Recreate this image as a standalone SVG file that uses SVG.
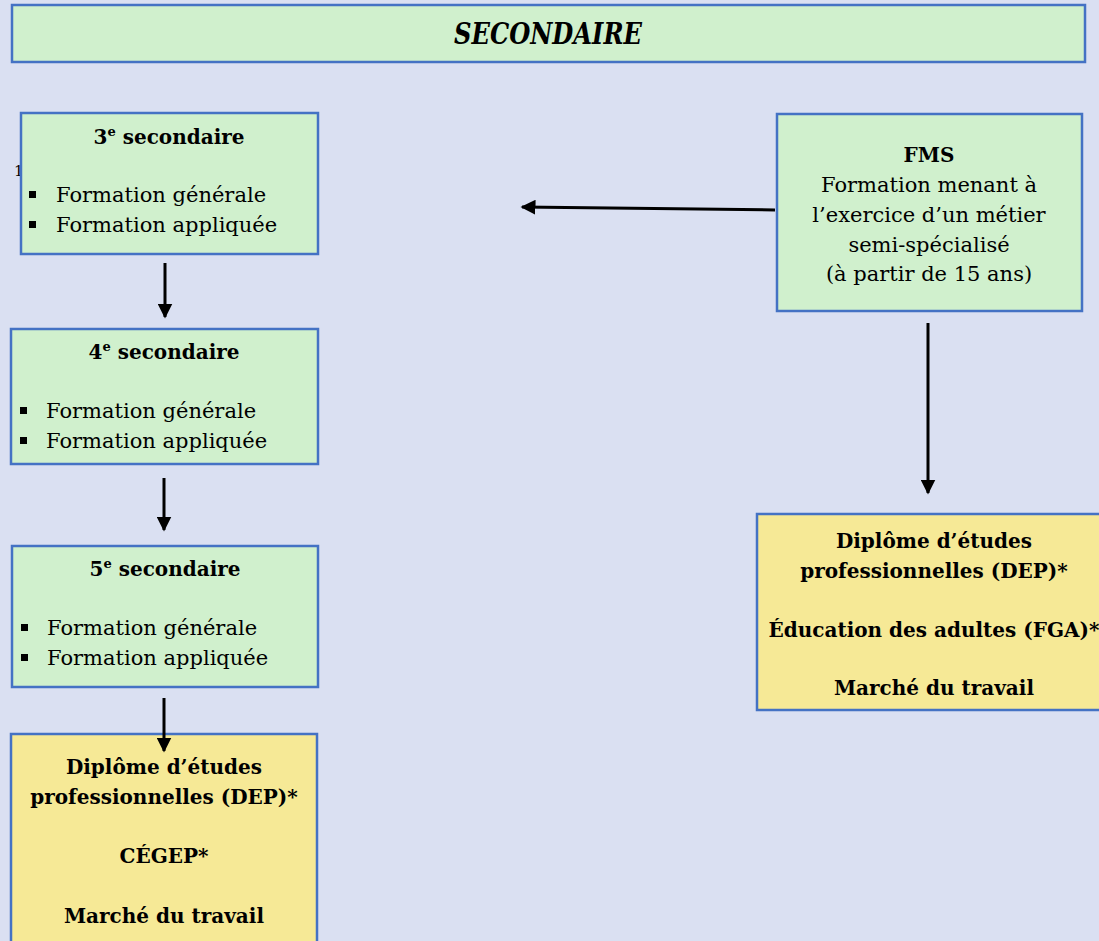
<svg xmlns="http://www.w3.org/2000/svg" width="1099" height="941" viewBox="0 0 1099 941">
<defs>
<marker id="ah" viewBox="0 0 10 10" refX="9" refY="5" markerWidth="5" markerHeight="5" markerUnits="strokeWidth" orient="auto">
<path d="M0,0 L10,5 L0,10 z" fill="#000"/>
</marker>
<style>
.g{fill:#D0F0CD;stroke:#4472C4;stroke-width:2.5}
.y{fill:#F6E996;stroke:#4472C4;stroke-width:2.5}
.t{font-family:"DejaVu Serif","Liberation Serif",serif;fill:#000}
.b{font-weight:bold;font-size:20px}
.r{font-size:21px}
.c{text-anchor:middle}
.sq{fill:#000}
.ln{stroke:#000;stroke-width:3;fill:none;marker-end:url(#ah)}
</style>
</defs>
<rect width="1099" height="941" fill="#DAE0F2"/>
<text class="t" x="14" y="176" font-size="15">1</text>
<g id="banner">
<rect class="g" x="12" y="5" width="1073" height="57"/>
<text class="t c" x="548" y="44" font-size="30" font-weight="bold" font-style="italic" textLength="188" lengthAdjust="spacingAndGlyphs">SECONDAIRE</text>
</g>
<g id="n3">
<rect class="g" x="21" y="113" width="297" height="141"/>
<text class="t b c" x="169" y="144">3<tspan font-size="13" dy="-8">e</tspan><tspan dy="8"> secondaire</tspan></text>
<rect class="sq" x="29" y="191" width="7" height="7"/>
<rect class="sq" x="29" y="221" width="7" height="7"/>
<text class="t r" x="56" y="202">Formation générale</text>
<text class="t r" x="56" y="232">Formation appliquée</text>
</g>
<g id="n4">
<rect class="g" x="11" y="329" width="307" height="135"/>
<text class="t b c" x="164" y="359">4<tspan font-size="13" dy="-8">e</tspan><tspan dy="8"> secondaire</tspan></text>
<rect class="sq" x="20" y="407" width="7" height="7"/>
<rect class="sq" x="20" y="437" width="7" height="7"/>
<text class="t r" x="46" y="418">Formation générale</text>
<text class="t r" x="46" y="448">Formation appliquée</text>
</g>
<g id="n5">
<rect class="g" x="12" y="546" width="306" height="141"/>
<text class="t b c" x="165" y="576">5<tspan font-size="13" dy="-8">e</tspan><tspan dy="8"> secondaire</tspan></text>
<rect class="sq" x="21" y="624" width="7" height="7"/>
<rect class="sq" x="21" y="654" width="7" height="7"/>
<text class="t r" x="47" y="635">Formation générale</text>
<text class="t r" x="47" y="665">Formation appliquée</text>
</g>
<g id="out1">
<rect class="y" x="11" y="734" width="306" height="220"/>
<text class="t b c" x="164" y="774">Diplôme d’études</text>
<text class="t b c" x="164" y="804">professionnelles (DEP)*</text>
<text class="t b c" x="164" y="863">CÉGEP*</text>
<text class="t b c" x="164" y="923">Marché du travail</text>
</g>
<g id="fms">
<rect class="g" x="777" y="114" width="305" height="197"/>
<text class="t b c" x="929" y="162">FMS</text>
<text class="t r c" x="929" y="192">Formation menant à</text>
<text class="t r c" x="929" y="222">l’exercice d’un métier</text>
<text class="t r c" x="929" y="252">semi-spécialisé</text>
<text class="t r c" x="929" y="281">(à partir de 15 ans)</text>
</g>
<g id="out2">
<rect class="y" x="757" y="514" width="360" height="196"/>
<text class="t b c" x="934" y="548">Diplôme d’études</text>
<text class="t b c" x="934" y="578">professionnelles (DEP)*</text>
<text class="t b c" x="934" y="637">Éducation des adultes (FGA)*</text>
<text class="t b c" x="934" y="695">Marché du travail</text>
</g>
<g id="connectors">
<line class="ln" x1="165" y1="263" x2="165" y2="317"/>
<line class="ln" x1="164" y1="478" x2="164" y2="530"/>
<line class="ln" x1="164" y1="698" x2="164" y2="751"/>
<line class="ln" x1="775" y1="210" x2="522" y2="207"/>
<line class="ln" x1="928" y1="323" x2="928" y2="493"/>
</g>
</svg>
